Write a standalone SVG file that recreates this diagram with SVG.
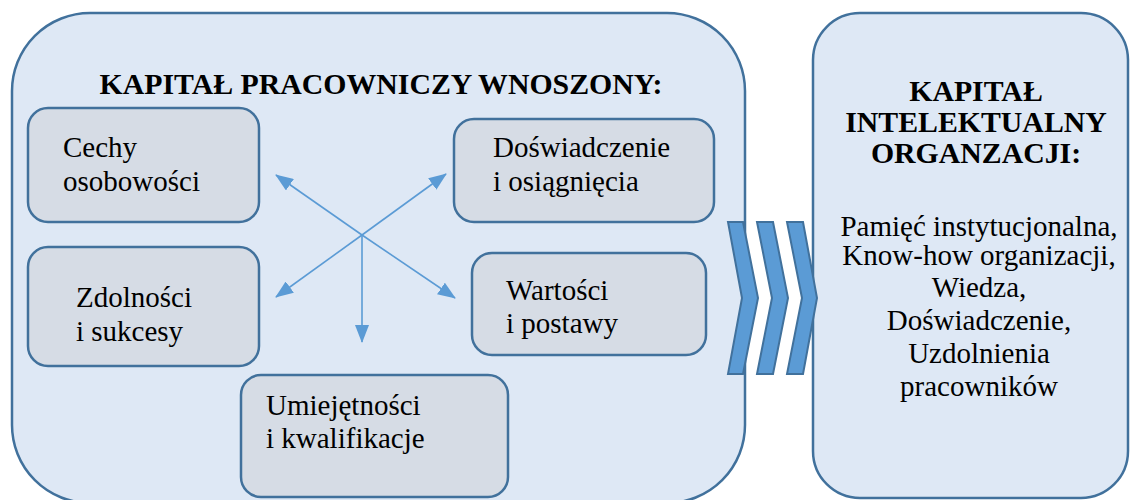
<svg xmlns="http://www.w3.org/2000/svg" width="1131" height="500" viewBox="0 0 1131 500">
<style>
.big{fill:#dee8f5;stroke:#41719c;stroke-width:2.5}
.box{fill:#d6dce5;stroke:#41719c;stroke-width:2.5}
text{font-family:'Liberation Serif','Times New Roman',Tinos,'DejaVu Serif',serif;font-size:29px;fill:#000}
.b{font-weight:bold;font-size:29.8px}
.arr{stroke:#5b9bd5;stroke-width:1.6;fill:none;marker-end:url(#ah)}
.chev{fill:#5b9bd5;stroke:#41719c;stroke-width:2;stroke-linejoin:miter}
</style>
<defs>
<marker id="ah" markerUnits="userSpaceOnUse" markerWidth="18" markerHeight="14" viewBox="0 0 18 14" refX="17" refY="7" orient="auto">
<path d="M0,0 L18,7 L0,14 z" fill="#5b9bd5"/>
</marker>
</defs>
<rect width="1131" height="500" fill="#fff"/>
<g id="kapital-pracowniczy">
<rect class="big" x="12" y="13" width="733" height="490" rx="78" ry="78"/>
<text class="b" font-family="Liberation Serif, serif" x="381" y="94" text-anchor="middle">KAPITAŁ PRACOWNICZY WNOSZONY:</text>
</g>
<g id="kapital-intelektualny">
<rect class="big" x="813" y="13" width="315" height="485" rx="47" ry="47"/>
<text class="b" font-family="Liberation Serif, serif" text-anchor="middle"><tspan x="976" y="101">KAPITAŁ</tspan><tspan x="976" y="132">INTELEKTUALNY</tspan><tspan x="976" y="163">ORGANZACJI:</tspan></text>
<text font-family="Liberation Serif, serif" text-anchor="middle"><tspan x="979" y="236">Pamięć instytucjonalna,</tspan><tspan x="979" y="265">Know-how organizacji,</tspan><tspan x="979" y="297">Wiedza,</tspan><tspan x="979" y="330">Doświadczenie,</tspan><tspan x="979" y="363">Uzdolnienia</tspan><tspan x="979" y="396">pracowników</tspan></text>
</g>
<g id="cechy">
<rect class="box" x="28" y="108" width="231" height="114" rx="20"/>
<text font-family="Liberation Serif, serif"><tspan x="63" y="157">Cechy</tspan><tspan x="63" y="191">osobowości</tspan></text>
</g>
<g id="doswiadczenie">
<rect class="box" x="454" y="119" width="260" height="103" rx="20"/>
<text font-family="Liberation Serif, serif"><tspan x="493" y="157">Doświadczenie</tspan><tspan x="493" y="191">i osiągnięcia</tspan></text>
</g>
<g id="zdolnosci">
<rect class="box" x="28" y="247" width="231" height="119" rx="20"/>
<text font-family="Liberation Serif, serif"><tspan x="76" y="307">Zdolności</tspan><tspan x="76" y="341">i sukcesy</tspan></text>
</g>
<g id="wartosci">
<rect class="box" x="472" y="253" width="234" height="102" rx="20"/>
<text font-family="Liberation Serif, serif"><tspan x="506" y="300">Wartości</tspan><tspan x="506" y="333">i postawy</tspan></text>
</g>
<g id="umiejetnosci">
<rect class="box" x="241" y="375" width="267" height="122" rx="20"/>
<text font-family="Liberation Serif, serif"><tspan x="266" y="415">Umiejętności</tspan><tspan x="266" y="448">i kwalifikacje</tspan></text>
</g>
<g id="connectors">
<line class="arr" x1="362" y1="235" x2="276" y2="175"/>
<line class="arr" x1="362" y1="235" x2="446" y2="174"/>
<line class="arr" x1="362" y1="235" x2="276" y2="297"/>
<line class="arr" x1="362" y1="235" x2="455" y2="298"/>
<line class="arr" x1="362" y1="235" x2="362" y2="342"/>
</g>
<g id="chevrons">
<polygon class="chev" points="728,222 743,222 758,298 743,374 728,374 742,298"/>
<polygon class="chev" points="757,222 773,222 788,298 773,374 757,374 772,298"/>
<polygon class="chev" points="787,222 803,222 817,298 803,374 787,374 802,298"/>
</g>
</svg>
